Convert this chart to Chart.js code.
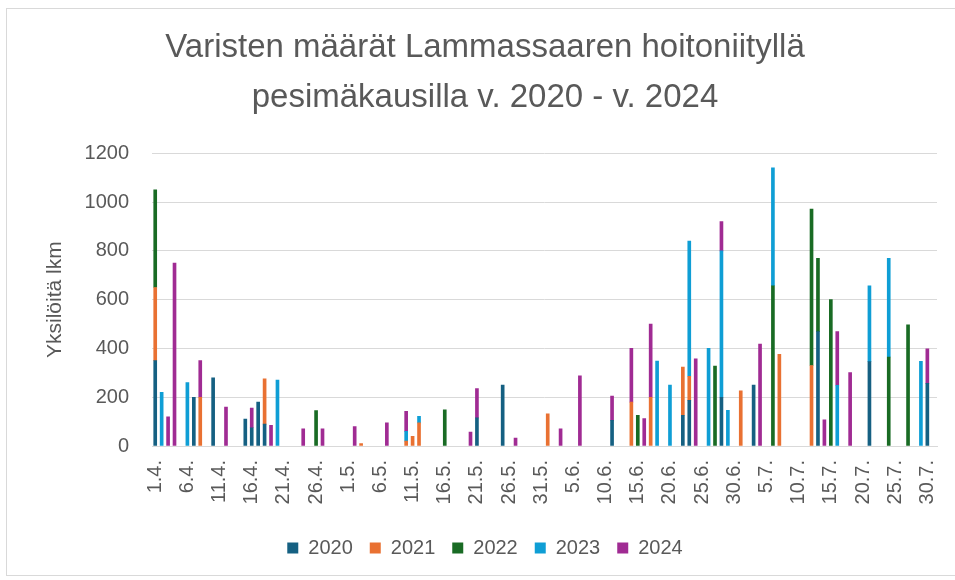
<!DOCTYPE html>
<html>
<head>
<meta charset="utf-8">
<script src="https://cdn.jsdelivr.net/npm/chart.js@4/dist/chart.umd.min.js"></script>
<style>
html,body{margin:0;padding:0;background:#fff;}
#wrap{width:955px;height:580px;position:relative;}
</style>
</head>
<body>
<div id="wrap"><canvas id="c" width="955" height="580"></canvas></div>
<script>
// Months of the season (1.4. – 31.7.)
const months = [4, 5, 6, 7];
const monthDays = [30, 31, 30, 31];
const tickEvery = 5;

const titleLines = ["Varisten määrät Lammassaaren hoitoniityllä", "pesimäkausilla v. 2020 - v. 2024"];
const yTitle = "Yksilöitä lkm";
const seriesNames = ["2020", "2021", "2022", "2023", "2024"];
const seriesColors = ["#156082", "#E97132", "#196B24", "#0F9ED5", "#A02B93"];

// Daily counts, 122 days, rows of 10 days
const s2020 = [
  350,0,0,0,0,0,200,0,0,280,
  0,0,0,0,110,75,180,90,0,0,
  0,0,0,0,0,0,0,0,0,0,
  0,0,0,0,0,0,0,0,0,0,
  0,0,0,0,0,0,0,0,0,0,
  115,0,0,0,250,0,0,0,0,0,
  0,0,0,0,0,0,0,0,0,0,
  0,105,0,0,0,0,0,0,0,0,
  0,0,126,187,0,0,0,0,200,0,
  0,0,0,250,0,0,0,0,0,0,
  0,0,0,469,0,0,0,0,0,0,
  0,346,0,0,0,0,0,0,0,0,
  257,0
];
const s2021 = [
  300,0,0,0,0,0,0,200,0,0,
  0,0,0,0,0,0,0,185,0,0,
  0,0,0,0,0,0,0,0,0,0,
  0,0,10,0,0,0,0,0,0,20,
  40,95,0,0,0,0,0,0,0,0,
  0,0,0,0,0,0,0,0,0,0,
  0,132,0,0,0,0,0,0,0,0,
  0,0,0,0,180,0,0,200,0,0,
  0,0,198,99,0,0,0,0,0,0,
  0,226,0,0,0,0,0,376,0,0,
  0,0,330,0,0,0,0,0,0,0,
  0,0,0,0,0,0,0,0,0,0,
  0,0
];
const s2022 = [
  400,0,0,0,0,0,0,0,0,0,
  0,0,0,0,0,0,0,0,0,0,
  0,0,0,0,0,145,0,0,0,0,
  0,0,0,0,0,0,0,0,0,0,
  0,0,0,0,0,148,0,0,0,0,
  0,0,0,0,0,0,0,0,0,0,
  0,0,0,0,0,0,0,0,0,0,
  0,0,0,0,0,126,0,0,0,0,
  0,0,0,0,0,0,0,328,0,0,
  0,0,0,0,0,0,657,0,0,0,
  0,0,641,300,0,600,0,0,0,0,
  0,0,0,0,365,0,0,497,0,0,
  0,0
];
const s2023 = [
  0,220,0,0,0,260,0,0,0,0,
  0,0,0,0,0,0,0,0,0,270,
  0,0,0,0,0,0,0,0,0,0,
  0,0,0,0,0,0,0,0,0,40,
  0,27,0,0,0,0,0,0,0,0,
  0,0,0,0,0,0,0,0,0,0,
  0,0,0,0,0,0,0,0,0,0,
  0,0,0,0,0,0,0,0,348,0,
  250,0,0,554,0,0,400,0,600,146,
  0,0,0,0,0,0,483,0,0,0,
  0,0,0,0,0,0,249,0,0,0,
  0,311,0,0,404,0,0,0,0,347,
  0,0
];
const s2024 = [
  0,0,120,750,0,0,0,150,0,0,
  0,160,0,0,0,80,0,0,85,0,
  0,0,0,70,0,0,70,0,0,0,
  0,80,0,0,0,0,95,0,0,82,
  0,0,0,0,0,0,0,0,0,57,
  120,0,0,0,0,0,32,0,0,0,
  0,0,0,70,0,0,288,0,0,0,
  0,100,0,0,220,0,112,300,0,0,
  0,0,0,0,357,0,0,0,120,0,
  0,0,0,0,418,0,0,0,0,0,
  0,0,0,0,107,0,220,0,301,0,
  0,0,0,0,0,0,0,0,0,0,
  141,0
];
const seriesValues = [s2020, s2021, s2022, s2023, s2024];

const categories = [];
months.forEach((m, i) => {
  for (let d = 1; d <= monthDays[i]; d++) categories.push(d + "." + m + ".");
});

const FONT = "'Liberation Sans', Arial, sans-serif";
const TXT = "#595959";

const frame = {
  id: 'frame',
  beforeDraw(chart) {
    const ctx = chart.ctx;
    ctx.save();
    ctx.fillStyle = '#fff';
    ctx.fillRect(0, 0, chart.width, chart.height);
    ctx.strokeStyle = '#d9d9d9';
    ctx.lineWidth = 1;
    ctx.strokeRect(6.5, 8.5, 960, 567);
    ctx.restore();
  }
};

new Chart(document.getElementById('c'), {
  type: 'bar',
  data: {
    labels: categories,
    datasets: seriesNames.map((n, i) => ({
      label: n,
      data: seriesValues[i].map(v => (v === 0 ? null : v)),
      backgroundColor: seriesColors[i],
      borderWidth: 0,
      barThickness: 3
    }))
  },
  options: {
    responsive: false,
    animation: false,
    events: [],
    layout: { padding: { left: 16, right: 1, top: 0, bottom: 12 } },
    plugins: {
      title: {
        display: true,
        text: titleLines,
        color: TXT,
        font: { family: FONT, size: 33, weight: 'normal', lineHeight: 1.52 },
        padding: { top: 23, bottom: 30 }
      },
      legend: {
        position: 'bottom',
        labels: {
          color: TXT,
          font: { family: FONT, size: 20 },
          boxWidth: 11,
          boxHeight: 11,
          padding: 17
        }
      },
      tooltip: { enabled: false }
    },
    scales: {
      x: {
        stacked: true,
        grid: { display: false, drawTicks: false },
        border: { display: true, color: '#d9d9d9', width: 1 },
        ticks: {
          autoSkip: false,
          minRotation: 90,
          maxRotation: 90,
          padding: 14,
          color: TXT,
          font: { family: FONT, size: 20 },
          callback: (v, i) => (i % tickEvery === 0 ? categories[i] : '')
        },
        afterFit: s => { s.height = 75; s.paddingRight = 18; s.paddingLeft = 0; }
      },
      y: {
        stacked: true,
        min: 0,
        max: 1200,
        grid: { color: '#d9d9d9', drawTicks: false },
        border: { display: false },
        ticks: {
          stepSize: 200,
          padding: 23,
          color: TXT,
          font: { family: FONT, size: 20 },
          callback: v => String(v)
        },
        title: {
          display: true,
          text: yTitle,
          color: TXT,
          font: { family: FONT, size: 21 },
          padding: { top: 27, bottom: 0 }
        },
        afterFit: s => { s.width = 136; }
      }
    }
  },
  plugins: [frame]
});
</script>
</body>
</html>
